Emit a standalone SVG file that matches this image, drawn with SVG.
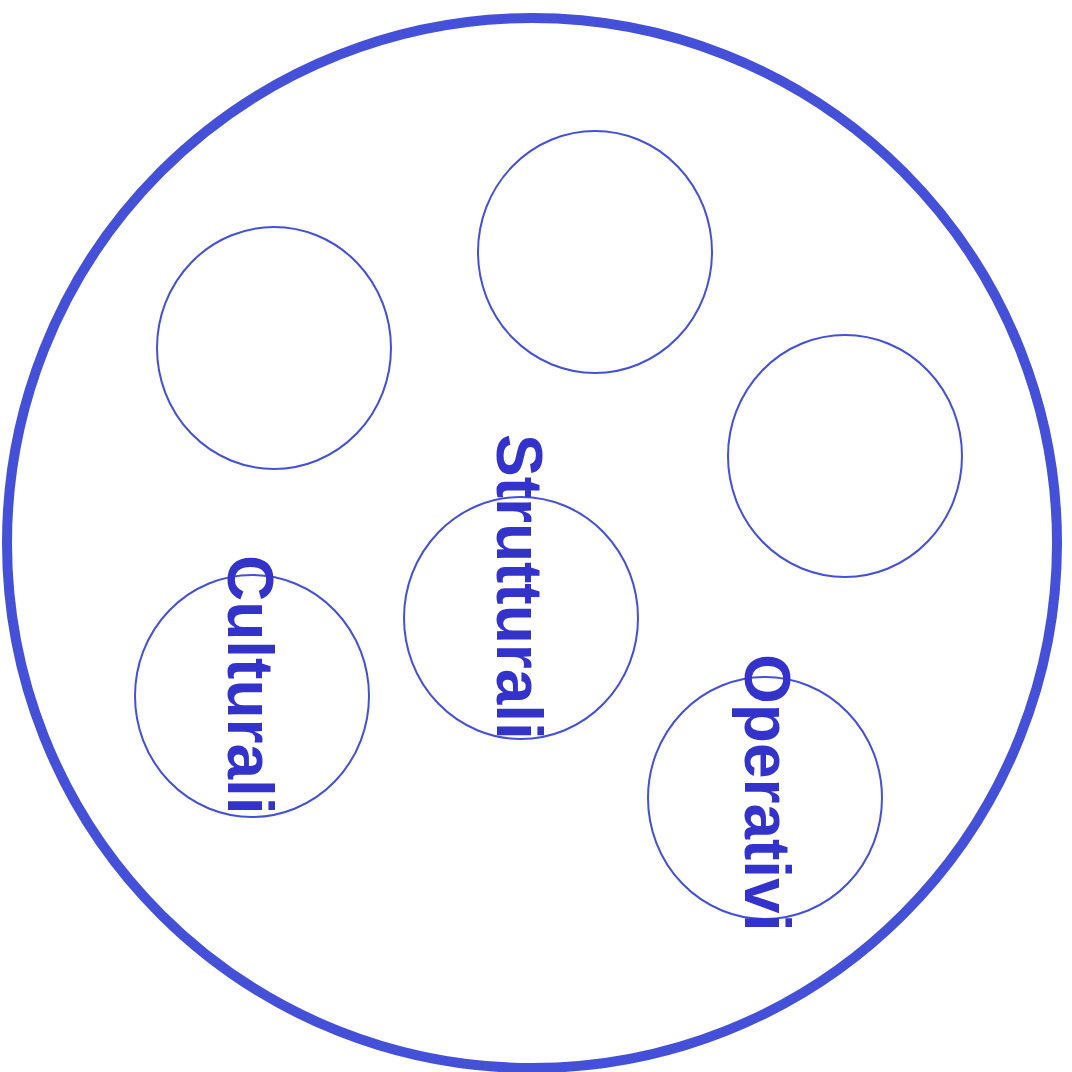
<svg xmlns="http://www.w3.org/2000/svg" width="1072" height="1072" viewBox="0 0 1072 1072">
<style>
.outer{fill:none;stroke:#4450d8;stroke-width:10}
.node{fill:none;stroke:#4450d8;stroke-width:2}
.lbl{font-family:"Liberation Sans",Arial,sans-serif;font-weight:bold;font-size:64px;fill:#3333cc}
</style>
<rect width="1072" height="1072" fill="#ffffff"/>
<g id="container"><circle class="outer" cx="532" cy="543" r="525"/></g>
<g id="connectors"></g>
<g id="n1"><ellipse class="node" cx="274" cy="348" rx="117" ry="121"/></g>
<g id="n2"><ellipse class="node" cx="595" cy="252" rx="117" ry="121"/></g>
<g id="n3"><ellipse class="node" cx="845" cy="456" rx="117" ry="121"/></g>
<g id="strutturali"><ellipse class="node" cx="521" cy="618" rx="117" ry="121"/><text class="lbl" transform="translate(497,434) rotate(90)">Strutturali</text></g>
<g id="culturali"><ellipse class="node" cx="252" cy="696" rx="117" ry="121"/><text class="lbl" transform="translate(228,555) rotate(90)">Culturali</text></g>
<g id="operativi"><ellipse class="node" cx="765" cy="798" rx="117" ry="121"/><text class="lbl" transform="translate(745,654) rotate(90)">Operativi</text></g>
</svg>
